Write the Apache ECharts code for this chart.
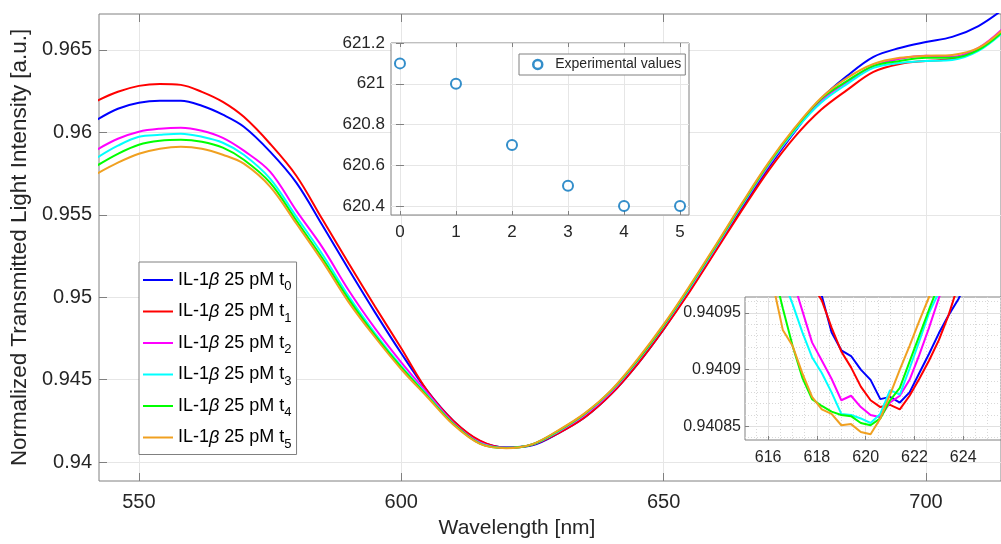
<!DOCTYPE html>
<html><head><meta charset="utf-8">
<script src="https://cdn.jsdelivr.net/npm/echarts@6/dist/echarts.min.js"></script>
<style>html,body{margin:0;padding:0;background:#fff}#c{width:1001px;height:544px}</style>
</head><body><div id="c"></div>
<script>
// ---- main spectra (wavelength in nm, normalized intensity) ----
const wavelength = [542,546,550,554,558,562,566,570,575,580,585,590,595,600,605,610,615,620,625,630,635,640,645,650,655,660,665,670,675,680,685,690,695,700,705,710,715];
const t0 = [0.96076,0.96143,0.96179,0.96191,0.96191,0.96161,0.96107,0.96034,0.95883,0.95695,0.95435,0.95168,0.94908,0.94660,0.94430,0.94248,0.94127,0.94089,0.94102,0.94176,0.94272,0.94412,0.94593,0.94805,0.95041,0.95289,0.95544,0.95786,0.96004,0.96203,0.96343,0.96458,0.96512,0.96548,0.96579,0.96645,0.96754];
const t1 = [0.96191,0.96246,0.96282,0.96294,0.96288,0.96246,0.96185,0.96094,0.95931,0.95737,0.95471,0.95205,0.94944,0.94690,0.94430,0.94248,0.94130,0.94087,0.94105,0.94176,0.94272,0.94412,0.94593,0.94805,0.95035,0.95283,0.95531,0.95768,0.95973,0.96137,0.96258,0.96367,0.96415,0.96433,0.96446,0.96506,0.96633];
const t2 = [0.95895,0.95961,0.96004,0.96022,0.96028,0.96010,0.95967,0.95889,0.95762,0.95525,0.95301,0.95041,0.94811,0.94605,0.94418,0.94236,0.94119,0.94086,0.94107,0.94185,0.94285,0.94424,0.94611,0.94823,0.95056,0.95304,0.95559,0.95798,0.96010,0.96191,0.96306,0.96403,0.96446,0.96464,0.96458,0.96512,0.96639];
const t3 = [0.95846,0.95919,0.95973,0.95985,0.95992,0.95973,0.95937,0.95864,0.95719,0.95489,0.95259,0.95005,0.94781,0.94581,0.94406,0.94230,0.94115,0.94086,0.94107,0.94188,0.94291,0.94430,0.94614,0.94826,0.95059,0.95308,0.95562,0.95804,0.96010,0.96179,0.96294,0.96391,0.96421,0.96433,0.96439,0.96494,0.96615];
const t4 = [0.95798,0.95870,0.95925,0.95949,0.95955,0.95943,0.95907,0.95834,0.95695,0.95465,0.95235,0.94987,0.94769,0.94575,0.94400,0.94230,0.94112,0.94085,0.94108,0.94191,0.94294,0.94433,0.94617,0.94829,0.95065,0.95314,0.95568,0.95810,0.96022,0.96203,0.96312,0.96403,0.96433,0.96452,0.96452,0.96500,0.96621];
const t5 = [0.95749,0.95816,0.95870,0.95901,0.95913,0.95901,0.95864,0.95810,0.95671,0.95447,0.95217,0.94969,0.94757,0.94563,0.94393,0.94224,0.94110,0.94084,0.94109,0.94194,0.94297,0.94436,0.94623,0.94835,0.95071,0.95320,0.95574,0.95816,0.96028,0.96209,0.96331,0.96415,0.96452,0.96464,0.96470,0.96512,0.96633];

// ---- zoom inset around the minimum ----
const zoomWavelength = [615.4,615.8,616.2,616.6,617.0,617.4,617.8,618.2,618.6,619.0,619.4,619.8,620.2,620.6,621.0,621.4,621.8,622.2,622.6,623.0,623.4,623.8,624.2,624.6,625.0];
const z0 = [0.94122,0.94116,0.9411,0.94105,0.94101,0.94098,0.940972,0.940965,0.940933,0.940917,0.940912,0.9409,0.940891,0.940874,0.940876,0.940871,0.94088,0.940897,0.940914,0.940932,0.940948,0.940962,0.94098,0.941,0.94102];
const z1 = [0.94124,0.94118,0.94112,0.941065,0.94102,0.94099,0.940975,0.940961,0.940937,0.940916,0.940902,0.940885,0.940873,0.940867,0.940869,0.940865,0.940877,0.940892,0.940908,0.940926,0.940948,0.940975,0.941,0.941025,0.94105];
const z2 = [0.94113,0.94109,0.941045,0.941005,0.94098,0.940952,0.940924,0.940908,0.940892,0.940873,0.940877,0.940867,0.94086,0.940858,0.940871,0.940877,0.940891,0.940913,0.940937,0.940963,0.940985,0.941005,0.941025,0.941045,0.941065];
const z3 = [0.94109,0.94105,0.941015,0.94098,0.940958,0.940933,0.940911,0.940897,0.94088,0.940861,0.94086,0.940857,0.940853,0.940861,0.940882,0.940878,0.940901,0.940925,0.94095,0.940968,0.94099,0.94101,0.94103,0.94105,0.94107];
const z4 = [0.941065,0.941025,0.94099,0.940954,0.940921,0.940893,0.940874,0.940868,0.940863,0.94086,0.940859,0.940853,0.940851,0.940857,0.940873,0.940884,0.940907,0.94093,0.940953,0.940975,0.941,0.94102,0.94104,0.94106,0.94108];
const z5 = [0.941045,0.941005,0.940975,0.940935,0.940921,0.940897,0.940876,0.940865,0.940861,0.940851,0.940852,0.940845,0.940843,0.940857,0.940878,0.9409,0.940921,0.940943,0.940964,0.940985,0.941007,0.941028,0.94105,0.94107,0.94109];

// ---- resonance wavelength inset ----
const timeIndex = [0,1,2,3,4,5];
const resonanceWavelength = [621.1,621.0,620.7,620.5,620.4,620.4];

// ---- ticks ----
const mainXTicks = [550,600,650,700];
const mainYTicks = [0.94,0.945,0.95,0.955,0.96,0.965];
const in1XTicks = [0,1,2,3,4,5];
const in1YTicks = [620.4,620.6,620.8,621,621.2];
const in2XTicks = [616,618,620,622,624];
const in2YTicks = [0.94085,0.9409,0.94095];
const in2XMinor = []; for (let k = 1231; k <= 1251; k++) in2XMinor.push(k / 2);
const in2YMinor = []; for (let k = 84; k <= 96; k++) in2YMinor.push(+(0.94 + k * 1e-5).toFixed(6));

const seriesNames = ['t0','t1','t2','t3','t4','t5'];
const mainData = [t0,t1,t2,t3,t4,t5];
const zoomData = [z0,z1,z2,z3,z4,z5];
const colors = ['#0000ff','#ff0000','#ff00ff','#00ffff','#00ff00','#f0a020'];

const FONT = "'Liberation Sans', Arial, Helvetica, sans-serif";
const TXT = '#262626';
const FRAME = '#808080';
const GRIDC = '#e6e6e6';
const fmt = v => String(+(+v).toFixed(6));

function tickOnly(base) {
  return Object.assign({
    type: 'value', axisLine: {show: false}, axisLabel: {show: false},
    splitLine: {show: false}
  }, base);
}

const xAxis = [
  {gridIndex: 0, type: 'value', min: 542.4, max: 714.3,
   axisLine: {show: false},
   axisTick: {inside: true, length: 8, customValues: mainXTicks, lineStyle: {color: FRAME}},
   axisLabel: {customValues: mainXTicks, fontSize: 20, color: TXT, margin: 11, fontFamily: FONT, formatter: fmt},
   splitLine: {show: true, lineStyle: {color: GRIDC}},
   name: 'Wavelength [nm]', nameLocation: 'middle', nameGap: 37,
   nameTextStyle: {fontSize: 21, color: TXT, fontFamily: FONT, padding: [0, 66, 0, 0]}},
  tickOnly({gridIndex: 0, position: 'top', min: 542.4, max: 714.3,
   axisTick: {inside: true, length: 8, customValues: mainXTicks, lineStyle: {color: FRAME}}}),
  {gridIndex: 1, type: 'value', min: -0.16, max: 5.16, z: 4,
   axisLine: {show: false},
   axisTick: {inside: true, length: 4, customValues: in1XTicks, lineStyle: {color: FRAME}},
   axisLabel: {customValues: in1XTicks, fontSize: 17, color: TXT, margin: 9, fontFamily: FONT, formatter: fmt},
   splitLine: {show: true, lineStyle: {color: GRIDC}}},
  tickOnly({gridIndex: 1, position: 'top', min: -0.16, max: 5.16, z: 4,
   axisTick: {inside: true, length: 4, customValues: in1XTicks, lineStyle: {color: FRAME}}}),
  {gridIndex: 2, type: 'value', min: 615.05, max: 625.55, z: 4,
   axisLine: {show: false},
   axisTick: {inside: true, length: 4, customValues: in2XTicks, lineStyle: {color: FRAME}},
   axisLabel: {customValues: in2XTicks, fontSize: 16, color: TXT, margin: 10, fontFamily: FONT, formatter: fmt},
   splitLine: {show: true, lineStyle: {color: '#e0e0e0'}}},
  tickOnly({gridIndex: 2, min: 615.05, max: 625.55, z: 3.5,
   axisTick: {show: false, customValues: in2XMinor},
   splitLine: {show: true, lineStyle: {color: '#d8d8d8', type: [1, 2]}}})
];

const yAxis = [
  {gridIndex: 0, type: 'value', min: 0.93885, max: 0.96718,
   axisLine: {show: false},
   axisTick: {inside: true, length: 8, customValues: mainYTicks, lineStyle: {color: FRAME}},
   axisLabel: {customValues: mainYTicks, fontSize: 20, color: TXT, margin: 7, fontFamily: FONT, formatter: fmt},
   splitLine: {show: true, lineStyle: {color: GRIDC}},
   name: 'Normalized Transmitted Light Intensity [a.u.]', nameLocation: 'middle', nameGap: 65,
   nameTextStyle: {fontSize: 22.4, color: TXT, fontFamily: FONT}},
  {gridIndex: 1, type: 'value', min: 620.356, max: 621.2, z: 4,
   axisLine: {show: false},
   axisTick: {inside: true, length: 4, customValues: in1YTicks, lineStyle: {color: FRAME}},
   axisLabel: {customValues: in1YTicks, fontSize: 17, color: TXT, margin: 6, fontFamily: FONT, formatter: fmt},
   splitLine: {show: true, lineStyle: {color: GRIDC}}},
  tickOnly({gridIndex: 1, position: 'right', min: 620.356, max: 621.2, z: 4,
   axisTick: {inside: true, length: 4, customValues: in1YTicks, lineStyle: {color: FRAME}}}),
  {gridIndex: 2, type: 'value', min: 0.940838, max: 0.940964, z: 4,
   axisLine: {show: false},
   axisTick: {inside: true, length: 4, customValues: in2YTicks, lineStyle: {color: FRAME}},
   axisLabel: {customValues: in2YTicks, fontSize: 16, color: TXT, margin: 4, fontFamily: FONT, formatter: fmt},
   splitLine: {show: true, lineStyle: {color: '#e0e0e0'}}},
  tickOnly({gridIndex: 2, min: 0.940838, max: 0.940964, z: 3.5,
   axisTick: {show: false, customValues: in2YMinor},
   splitLine: {show: true, lineStyle: {color: '#d8d8d8', type: [1, 2]}}})
];

const series = [];
seriesNames.forEach((n, i) => {
  series.push({type: 'line', name: n, xAxisIndex: 0, yAxisIndex: 0, z: 2,
    data: wavelength.map((w, j) => [w, mainData[i][j]]),
    symbol: 'none', smooth: 0.35, clip: true,
    lineStyle: {width: 2, color: colors[i]}, itemStyle: {color: colors[i]}});
});
seriesNames.forEach((n, i) => {
  series.push({type: 'line', name: n, xAxisIndex: 4, yAxisIndex: 3, z: 5,
    data: zoomWavelength.map((w, j) => [w, zoomData[i][j]]),
    symbol: 'none', clip: true,
    lineStyle: {width: 2, color: colors[i]}, itemStyle: {color: colors[i]}});
});
series.push({type: 'scatter', name: 'Experimental values', xAxisIndex: 2, yAxisIndex: 1, z: 5,
  data: timeIndex.map((t, j) => [t, resonanceWavelength[j]]),
  symbol: 'emptyCircle', symbolSize: 10,
  itemStyle: {color: '#0072BD', borderColor: '#0072BD', borderWidth: 2.5}});

const option = {
  animation: false,
  backgroundColor: '#fff',
  textStyle: {fontFamily: FONT},
  grid: [
    {left: 99, top: 14, width: 903, height: 468, show: true, borderColor: FRAME, borderWidth: 1, backgroundColor: 'transparent', z: 0},
    {left: 391, top: 43, width: 298, height: 172, show: true, borderColor: FRAME, borderWidth: 1, backgroundColor: '#fff', z: 3},
    {left: 745, top: 297, width: 257, height: 143, show: true, borderColor: FRAME, borderWidth: 1, backgroundColor: '#fff', z: 3}
  ],
  xAxis, yAxis,
  legend: [
    {data: seriesNames, orient: 'vertical', left: 139, top: 262, z: 6,
     padding: [9, 5, 4, 4], itemGap: 9.5, itemWidth: 30, itemHeight: 2, icon: 'rect',
     backgroundColor: '#fff', borderColor: FRAME, borderWidth: 1, borderRadius: 0,
     formatter: n => '{n|IL-1}{b|β}{n| 25 pM t}{s|' + n.slice(1) + '}',
     textStyle: {color: '#000', fontFamily: FONT, fontSize: 18,
       rich: {
         n: {fontSize: 18, lineHeight: 26, fontFamily: FONT, color: '#000'},
         b: {fontSize: 18, lineHeight: 26, fontStyle: 'italic', fontFamily: FONT, color: '#000'},
         s: {fontSize: 13, lineHeight: 13, verticalAlign: 'bottom', fontFamily: FONT, color: '#000'}
       }}},
    {data: ['Experimental values'], orient: 'vertical', left: 519, top: 54, z: 6,
     padding: [3, 4, 3, 13], itemWidth: 9, itemHeight: 9, icon: 'circle',
     itemStyle: {color: '#fff', borderColor: '#0072BD', borderWidth: 2.5},
     backgroundColor: '#fff', borderColor: FRAME, borderWidth: 1,
     textStyle: {color: TXT, fontFamily: FONT, fontSize: 14, lineHeight: 15, padding: [0, 0, 0, 8]}}
  ],
  series
};

const chart = echarts.init(document.getElementById('c'), null, {renderer: 'canvas'});
chart.setOption(option);
</script>
</body></html>
